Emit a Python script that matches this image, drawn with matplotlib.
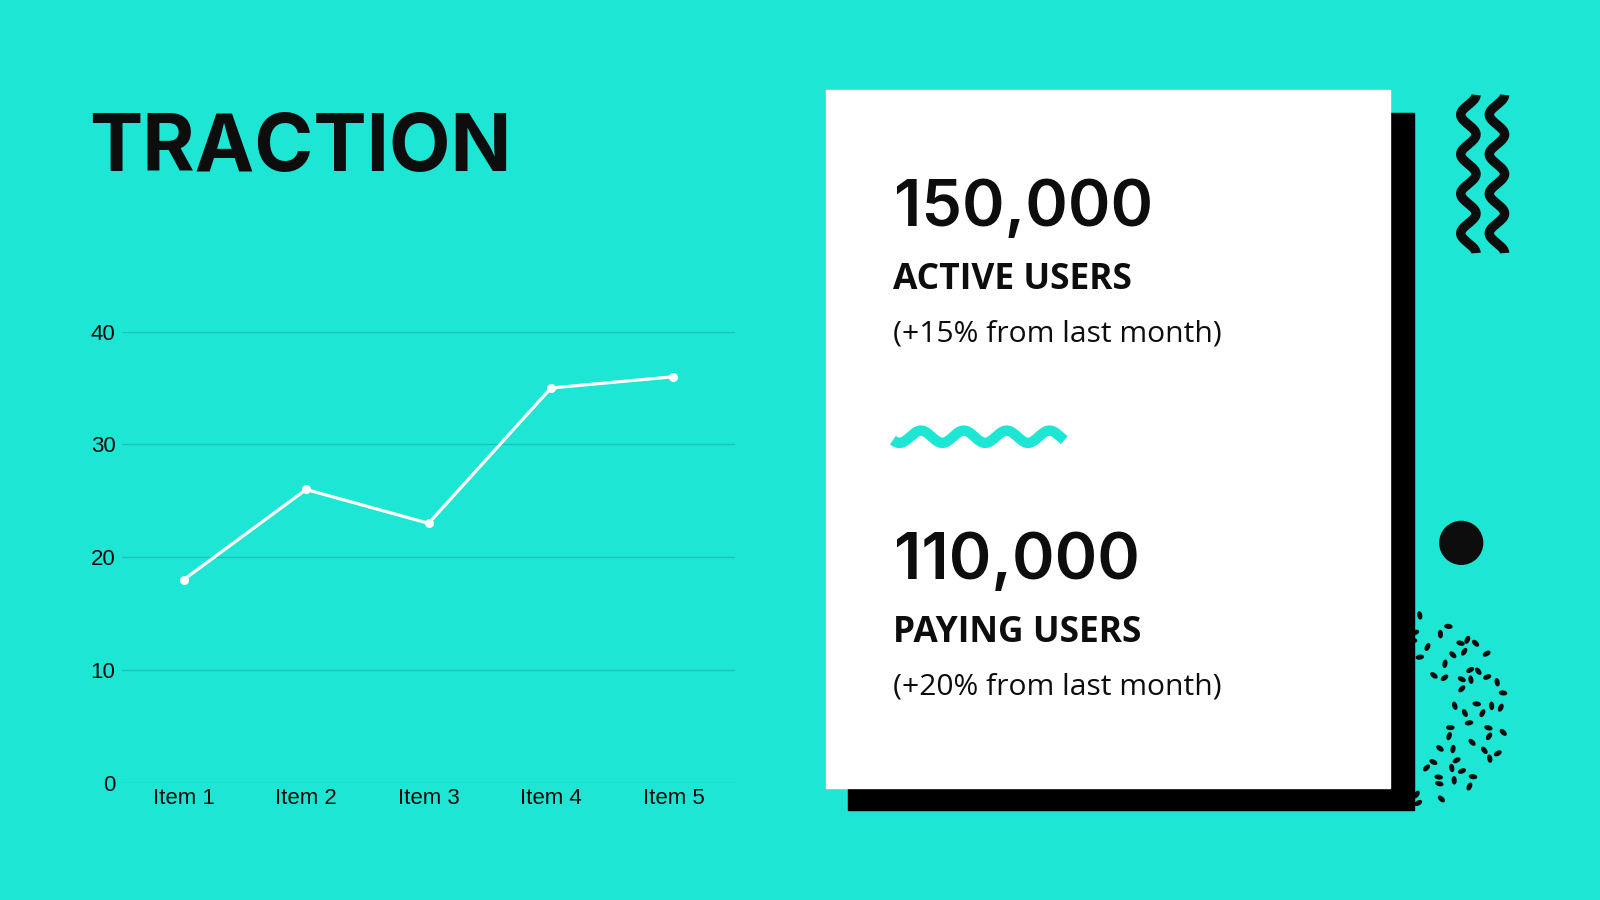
import numpy as np
import matplotlib.pyplot as plt
from matplotlib.patches import Rectangle, Circle, Ellipse

BG = "#1ee6d4"
INK = "#0d0d0d"
GRID = "#17c4b5"

# chart data
items = ["Item 1", "Item 2", "Item 3", "Item 4", "Item 5"]
values = [18, 26, 23, 35, 36]
y_ticks = [0, 10, 20, 30, 40]

# card texts
stats = ["150,000", "110,000"]
stat_labels = ["ACTIVE USERS", "PAYING USERS"]
stat_notes = ["(+15% from last month)", "(+20% from last month)"]

# page units (the reference viewed at 1568 x 882)
W, H = 1568, 882

fig = plt.figure(figsize=(16, 9), dpi=100, facecolor=BG)
bg = fig.add_axes([0, 0, 1, 1])
bg.set_xlim(0, W)
bg.set_ylim(H, 0)
bg.axis("off")

bg.text(87, 168, "TRACTION", fontsize=57.5, fontweight="bold", family="Inter", color=INK)

# line chart
ax = fig.add_axes([120 / W, 1 - 767 / H, 600 / W, (767 - 325) / H])
ax.set_facecolor("none")
x = np.arange(len(items))
ax.plot(x, values, color="white", lw=2.3, marker="o", ms=5.5, zorder=3)
ax.set_xlim(-0.5, len(items) - 0.5)
ax.set_ylim(0, 40)
ax.set_xticks(x, items)
ax.set_yticks(y_ticks)
ax.grid(axis="y", color=GRID, lw=1)
ax.set_axisbelow(True)
for s in ax.spines.values():
    s.set_visible(False)
ax.tick_params(axis="y", length=0, labelsize=16, labelcolor=INK, pad=5)
ax.tick_params(axis="x", length=0, labelsize=16, labelcolor=INK, pad=3.5)
for lab in ax.get_xticklabels() + ax.get_yticklabels():
    lab.set_family("Liberation Sans")

# dotted ring (behind the card shadow)
jit = [0.3, -0.25, 0.1, -0.4, 0.2, 0.45, -0.1, -0.3, 0.35, 0.0, -0.2, 0.15]
cx, cy = 1378, 697
k = 0
for r, n in [(48, 9), (60, 11), (72, 13), (84, 16), (96, 18)]:
    for j in range(n):
        a = np.radians(-100 + 200 * (j + 0.5 * (r // 12 % 2) + jit[k % 12]) / n)
        rr = r + 8 * jit[(k + 5) % 12]
        ang = (k * 67 + j * 41) % 180
        bg.add_patch(Ellipse((cx + rr * np.cos(a), cy + 0.96 * rr * np.sin(a)), 7, 3.6,
                             angle=ang, color=INK, zorder=1))
        k += 1

# card with shadow
bg.add_patch(Rectangle((831, 111), 555, 683, color="black", zorder=2))
bg.add_patch(Rectangle((809, 88), 553, 684, color="white", zorder=3))

for i, (num, lab, note) in enumerate(zip(stats, stat_labels, stat_notes)):
    y0 = 221 + i * 346
    bg.text(876, y0, num, fontsize=46.5, fontweight="semibold", family="Inter", color=INK, zorder=4)
    bg.text(875, y0 + 62, lab, fontsize=25.5, fontweight="bold", family="Open Sans", color=INK, zorder=4)
    bg.text(875, y0 + 114, note, fontsize=21.6, family="Open Sans", color=INK, zorder=4)

# teal wave in the card
wx = np.linspace(875, 1043, 300)
bg.plot(wx, 428 - 6 * np.sin(2 * np.pi * (wx - 892) / 42), color=BG, lw=7.5,
        solid_capstyle="butt", zorder=4)

# black squiggles top right
sy = np.linspace(93, 248, 400)
for sx in [1439, 1467]:
    bg.plot(sx + 7.5 * np.cos(2 * np.pi * (sy - 93) / 38.75), sy, color=INK, lw=6.8,
            solid_capstyle="butt", zorder=4)

# black dot
bg.add_patch(Circle((1432, 532), 21, color=INK, zorder=4))

plt.savefig("out.png", dpi=100, facecolor=BG)
